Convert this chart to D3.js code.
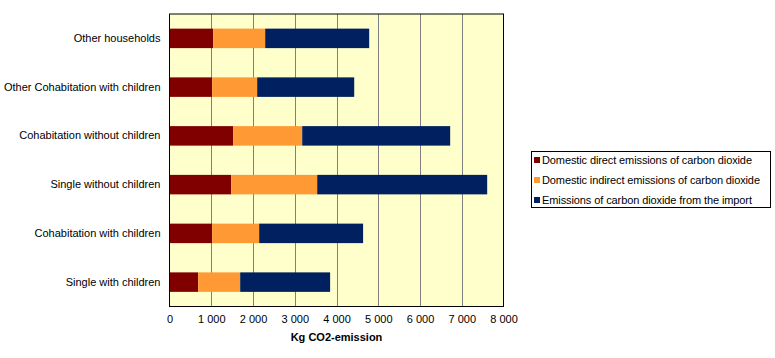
<!DOCTYPE html>
<html><head><meta charset="utf-8">
<script src="https://cdn.jsdelivr.net/npm/d3@7"></script>
<style>body{margin:0;background:#fff}svg{display:block}text{font-family:"Liberation Sans",Arial,sans-serif}</style>
</head><body><svg id="c" width="775" height="358"></svg>
<script>
const categories = ["Other households","Other Cohabitation with children","Cohabitation without children","Single without children","Cohabitation with children","Single with children"];
const seriesNames = ["Domestic direct emissions of carbon dioxide","Domestic indirect emissions of carbon dioxide","Emissions of carbon dioxide from the import"];
const directValues = [1047, 1023, 1526, 1478, 1023, 687];
const indirectValues = [1245, 1077, 1653, 2060, 1125, 1006];
const importValues = [2491, 2324, 3544, 4071, 2489, 2154];
const seriesColors = ["#800000","#FF9933","#002060"];
const xTicks = [0,1000,2000,3000,4000,5000,6000,7000,8000];
const xTitle = "Kg CO2-emission";

const svg = d3.select("#c");
const m = {l:169.5, r:503.5, t:14, b:306.5};
const x = d3.scaleLinear().domain([0,8000]).range([m.l, m.r]);
const y = d3.scaleBand().domain(categories).range([m.t, m.b]).paddingInner(0.6).paddingOuter(0.3);

svg.append("rect").attr("x",m.l).attr("y",m.t).attr("width",m.r-m.l).attr("height",m.b-m.t).attr("fill","#FFFFCC");
svg.append("g").selectAll("line").data(xTicks.slice(1,-1)).join("line")
  .attr("x1",d=>Math.round(x(d))+0.5).attr("x2",d=>Math.round(x(d))+0.5).attr("y1",m.t).attr("y2",m.b)
  .attr("stroke","#808080").attr("stroke-width",1);

const rows = categories.map((c,i)=>({cat:c, v:[directValues[i], indirectValues[i], importValues[i]]}));
const stack = d3.stack().keys([0,1,2]).value((d,k)=>d.v[k]);
const stacked = stack(rows);
svg.append("g").selectAll("g").data(stacked).join("g").attr("fill",(d,i)=>seriesColors[i])
  .selectAll("rect").data(d=>d).join("rect")
  .attr("x",d=>x(d[0])).attr("width",d=>x(d[1])-x(d[0]))
  .attr("y",d=>y(d.data.cat)).attr("height",y.bandwidth());

svg.append("rect").attr("x",m.l).attr("y",m.t).attr("width",m.r-m.l).attr("height",m.b-m.t)
  .attr("fill","none").attr("stroke","#000").attr("stroke-width",1);

const xa = svg.append("g").attr("transform",`translate(0,${m.b})`)
  .call(d3.axisBottom(x).tickValues(xTicks).tickSize(0).tickPadding(9)
    .tickFormat(d=>d3.format(",")(d).replace(/,/g," ")));
xa.select(".domain").remove();
xa.selectAll("text").attr("font-size",11).attr("fill","#000").attr("font-family","Liberation Sans, Arial, sans-serif");

const ya = svg.append("g").attr("transform",`translate(${m.l},0)`)
  .call(d3.axisLeft(y).tickSize(0).tickPadding(9));
ya.select(".domain").remove();
ya.selectAll("text").attr("font-size",11).attr("fill","#000").attr("font-family","Liberation Sans, Arial, sans-serif");

svg.append("text").attr("x",(m.l+m.r)/2).attr("y",341).attr("text-anchor","middle")
  .attr("font-size",11).attr("font-weight","bold").text(xTitle);

const legendWidths = [210, 218, 210];
const lg = svg.append("g");
lg.append("rect").attr("x",531.5).attr("y",151.5).attr("width",239).attr("height",56).attr("fill","#fff").attr("stroke","#000");
seriesNames.forEach((n,i)=>{
  const yy = 160 + i*20;
  lg.append("rect").attr("x",534).attr("y",yy-3).attr("width",6).attr("height",6).attr("fill",seriesColors[i]);
  lg.append("text").attr("x",542).attr("y",yy).attr("dy","0.35em").attr("font-size",11)
    .attr("textLength", legendWidths[i]).attr("lengthAdjust","spacing").text(n);
});
</script></body></html>
